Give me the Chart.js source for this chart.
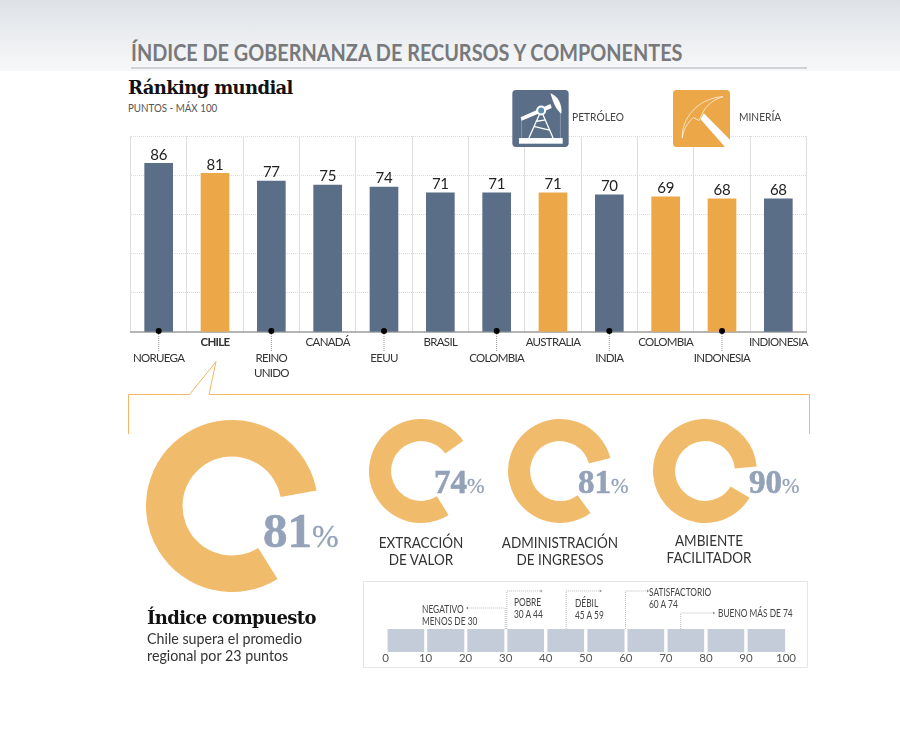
<!DOCTYPE html>
<html lang="es">
<head>
<meta charset="utf-8">
<title>Índice de gobernanza de recursos y componentes</title>
<script src="https://cdn.jsdelivr.net/npm/chart.js@4"></script>
<style>
html, body { margin: 0; padding: 0; background: #fff; }
#page { position: relative; width: 900px; height: 742px; overflow: hidden; font-family: Lato, sans-serif; color: #333; }
#page > * { position: absolute; }
#top-band { left: 0; top: 0; width: 900px; height: 71px; background: linear-gradient(#dee2e7, #f7f8f9); }
#title { left: 131px; top: 39px; font-size: 22px; font-weight: 700; color: #77797c; white-space: nowrap; line-height: 28px; transform: scaleX(0.902); transform-origin: left; }
#title-rule { left: 131px; top: 67px; width: 676px; height: 2px; background: #d0d2d5; }
.serif { font-family: "DejaVu Serif", serif; font-weight: 700; color: #111; white-space: nowrap; font-size: 18px; letter-spacing: -0.65px; line-height: 24px; }
.note { font-size: 11px; line-height: 11.5px; color: #444; white-space: nowrap; transform: scaleX(0.89); transform-origin: left; }
#page .band-note { transform: scaleX(0.76); }
.cap { font-size: 15px; line-height: 16.5px; color: #333; text-align: center; white-space: nowrap; transform: translateX(-50%) scaleX(0.9); }
.pct { font-family: "Liberation Serif", serif; font-weight: 700; color: #93a2b8; -webkit-text-stroke: 0.6px #93a2b8; white-space: nowrap; line-height: 1; }
.pct span { font-weight: 400; -webkit-text-stroke: 0.3px #93a2b8; }
#panel { left: 363px; top: 581px; width: 443px; height: 85px; border: 1px solid #e6e6e6; }
</style>
</head>
<body>
<div id="page">
  <div id="top-band"></div>
  <div id="title">ÍNDICE DE GOBERNANZA DE RECURSOS Y COMPONENTES</div>
  <div id="title-rule"></div>
  <div class="serif" style="left:128px;top:76px">Ránking mundial</div>
  <div class="note" style="left:128px;top:103px;font-size:10.5px;color:#555;transform:scaleX(0.93)">PUNTOS - MÁX 100</div>

  <canvas id="ranking-chart" width="730" height="270" style="left:100px;top:120px"></canvas>

  <svg style="left:512px;top:90px" width="57" height="57" viewBox="35 30 170 172">
    <rect x="35" y="30" width="170" height="172" rx="11" fill="#5b6e87"/>
    <rect x="55" y="175" width="132" height="17" fill="#fff"/>
    <path d="M85 175L122 92L158 175M100 140L150 152M105 125L135 120" fill="none" stroke="#fff" stroke-width="4"/>
    <path d="M63 120V175M180 95V175" stroke="#cfd6df" stroke-width="1.2"/>
    <path d="M60 112L150 72L154 84L63 123Z" fill="#fff"/>
    <path d="M150 40C172 48 186 72 183 102C170 92 160 75 150 40Z" fill="#fff"/>
    <circle cx="122" cy="92" r="15" fill="#fff"/>
    <circle cx="122" cy="92" r="9" fill="#5b8db0"/>
  </svg>
  <div class="note" style="left:572px;top:111px;font-size:11.5px">PETRÓLEO</div>
  <svg style="left:673px;top:90px" width="57" height="57" viewBox="519 30 172 172">
    <path d="M519 41a11 11 0 0 1 11-11h150a11 11 0 0 1 11 11v150l-11 11h-150a11 11 0 0 1 -11-11z" fill="#eba748"/>
    <path d="M612 100L691 180V196L680 202H676L602 118Z" fill="#fff"/>
    <path d="M547 175C544 120 590 55 670 50C640 60 620 75 608 100L598 122L580 113C562 130 550 150 547 175Z" fill="none" stroke="#fff" stroke-width="2"/>
  </svg>
  <div class="note" style="left:739px;top:111px;font-size:11.5px">MINERÍA</div>

  <svg style="left:0;top:0;pointer-events:none" width="900" height="440">
    <path d="M128.5 434V394.5H189.5L216 361.7L209 394.5H809.5V434" fill="none" stroke="#f1b765" stroke-width="1"/>
  </svg>

  <canvas id="total-ring" width="172" height="172" style="left:146px;top:420px"></canvas>
  <canvas id="extraction-ring" width="104" height="104" style="left:369px;top:419px"></canvas>
  <canvas id="income-ring" width="104" height="104" style="left:508px;top:419px"></canvas>
  <canvas id="climate-ring" width="104" height="104" style="left:653px;top:419px"></canvas>

  <div class="pct" style="left:263px;top:506px;font-size:49px">81<span style="font-size:32px">%</span></div>
  <div class="pct" style="left:434px;top:466px;font-size:33px">74<span style="font-size:21px">%</span></div>
  <div class="pct" style="left:578px;top:466px;font-size:33px">81<span style="font-size:21px">%</span></div>
  <div class="pct" style="left:749px;top:466px;font-size:33px">90<span style="font-size:21px">%</span></div>

  <div class="cap" style="left:421px;top:534px">EXTRACCIÓN<br>DE VALOR</div>
  <div class="cap" style="left:560px;top:534px">ADMINISTRACIÓN<br>DE INGRESOS</div>
  <div class="cap" style="left:709px;top:532px">AMBIENTE<br>FACILITADOR</div>

  <div class="serif" style="left:147px;top:606px">Índice compuesto</div>
  <div style="left:147px;top:630px;font-size:15px;line-height:17px;color:#333;white-space:nowrap;transform:scaleX(0.95);transform-origin:left">Chile supera el promedio<br>regional por 23 puntos</div>

  <div id="panel"></div>
  <canvas id="scale-chart" width="442" height="84" style="left:364px;top:582px"></canvas>
  <div class="note band-note" style="left:422px;top:603px">NEGATIVO<br>MENOS DE 30</div>
  <div class="note band-note" style="left:514px;top:596px">POBRE<br>30 A 44</div>
  <div class="note band-note" style="left:575px;top:597px">DÉBIL<br>45 A 59</div>
  <div class="note band-note" style="left:649px;top:586px">SATISFACTORIO<br>60 A 74</div>
  <div class="note band-note" style="left:718px;top:607px">BUENO MÁS DE 74</div>
</div>

<script>
// ranking
var countries = ["NORUEGA", "CHILE", "REINO UNIDO", "CANADÁ", "EEUU", "BRASIL", "COLOMBIA", "AUSTRALIA", "INDIA", "COLOMBIA", "INDONESIA", "INDIONESIA"];
var scores = [86, 81, 77, 75, 74, 71, 71, 71, 70, 69, 68, 68];
var sectors = ["oil", "mining", "oil", "oil", "oil", "oil", "oil", "mining", "oil", "mining", "mining", "oil"];
var dropped = [true, false, true, false, true, false, true, false, true, false, true, false];

// rings
var ring_total = [81, 19];
var ring_extraction = [74, 26];
var ring_income = [81, 19];
var ring_climate = [90, 10];

// scale at the bottom
var band_start = [0, 10, 20, 30, 40, 50, 60, 70, 80, 90];
var band_end = [9.1, 19.1, 29.1, 39, 49, 59.1, 69, 79, 89, 99.2];
var leader_from = [29.4, 29.8, 44.6, 59.4, 73.2];
var leader_to = [20.1, 38.2, 53, 64.8, 81.3];

var BLUE = "#5b6e87";
var ORANGE = "#eba748";
var RING = "#f0bc6c";
var sector_color = { oil: BLUE, mining: ORANGE };
var FONT = "Lato, sans-serif";

Chart.defaults.font.family = FONT;
Chart.defaults.animation = false;
Chart.defaults.responsive = false;
Chart.defaults.plugins.legend.display = false;
Chart.defaults.plugins.tooltip.enabled = false;

function tickLines(name, i) {
    let lines = name == "REINO UNIDO" ? ["REINO", "UNIDO"] : [name];
    return dropped[i] ? [""].concat(lines) : lines;
}

var ranking_marks = {
    id: "rankingMarks",
    // no narrow face is installed, so the tick labels are tightened instead
    beforeDraw: function (chart) {
        chart.ctx.letterSpacing = "-0.7px";
    },
    afterDraw: function (chart) {
        let ctx = chart.ctx;
        let xs = chart.scales.x;
        let ys = chart.scales.y;
        ctx.save();
        ctx.letterSpacing = "-0.3px";
        for (let i = 0; i < scores.length; i++) {
            let x = xs.getPixelForValue(i);
            ctx.fillStyle = "#222";
            ctx.font = "15px " + FONT;
            ctx.textAlign = "center";
            ctx.textBaseline = "bottom";
            ctx.fillText(scores[i], x, ys.getPixelForValue(scores[i]) - 1);
            if (dropped[i]) {
                let base = ys.getPixelForValue(0);
                ctx.strokeStyle = "#999";
                ctx.lineWidth = 1;
                ctx.setLineDash([1, 1]);
                ctx.beginPath();
                ctx.moveTo(x, base);
                ctx.lineTo(x, base + 20);
                ctx.stroke();
                ctx.setLineDash([]);
                ctx.fillStyle = "#000";
                ctx.beginPath();
                ctx.arc(x, base - 1, 3, 0, Math.PI * 2);
                ctx.fill();
            }
        }
        ctx.restore();
    }
};

new Chart(document.getElementById("ranking-chart"), {
    type: "bar",
    data: {
        labels: countries.map(tickLines),
        datasets: [{
            data: scores,
            backgroundColor: sectors.map(function (s) { return sector_color[s]; }),
            barThickness: 28
        }]
    },
    options: {
        layout: { padding: { left: 30.5, right: 23.5, top: 16, bottom: 0 } },
        scales: {
            x: {
                afterFit: function (scale) { scale.height = 58; },
                grid: { color: "#dedede", drawTicks: false, lineWidth: 1 },
                border: { color: "#b4b4b4", width: 2 },
                ticks: {
                    autoSkip: false,
                    maxRotation: 0,
                    padding: 3,
                    color: "#333",
                    font: function (c) {
                        return { size: 11.5, lineHeight: 1.33, weight: c.index == 1 ? "bold" : "normal" };
                    }
                }
            },
            y: {
                min: 0,
                max: 100,
                afterFit: function (scale) { scale.width = 0; },
                grid: { color: "#dcdcdc", drawTicks: false },
                border: { display: false, dash: [1, 1] },
                ticks: { display: false, stepSize: 20 }
            }
        }
    },
    plugins: [ranking_marks]
});

function makeRing(id, values, start_angle) {
    new Chart(document.getElementById(id), {
        type: "doughnut",
        data: {
            datasets: [{
                data: values,
                backgroundColor: [RING, "rgba(0,0,0,0)"],
                borderWidth: 0
            }]
        },
        options: { cutout: "57.5%", rotation: start_angle }
    });
}

makeRing("total-ring", ring_total, 148);
makeRing("extraction-ring", ring_extraction, 148);
makeRing("income-ring", ring_income, 144);
makeRing("climate-ring", ring_climate, 121);

var scale_leaders = {
    id: "scaleLeaders",
    afterDraw: function (chart) {
        let ctx = chart.ctx;
        let xs = chart.scales.x;
        let bar_top = chart.chartArea.top;
        let rise = [21, 38, 38, 38, 16];
        ctx.save();
        ctx.strokeStyle = "#bbb";
        ctx.fillStyle = "#888";
        ctx.lineWidth = 1;
        ctx.setLineDash([1, 1]);
        for (let i = 0; i < leader_from.length; i++) {
            let x0 = xs.getPixelForValue(leader_from[i]);
            let x1 = xs.getPixelForValue(leader_to[i]);
            let y = bar_top - rise[i];
            ctx.beginPath();
            ctx.moveTo(x0, bar_top);
            ctx.lineTo(x0, y);
            ctx.lineTo(x1, y);
            ctx.stroke();
            let dir = x1 > x0 ? 1 : -1;
            ctx.beginPath();
            ctx.moveTo(x1 + dir * 2, y);
            ctx.lineTo(x1, y - 1.5);
            ctx.lineTo(x1, y + 1.5);
            ctx.fill();
        }
        ctx.restore();
    }
};

new Chart(document.getElementById("scale-chart"), {
    type: "bar",
    data: {
        labels: ["puntos"],
        datasets: band_start.map(function (from, i) {
            return { data: [[from, band_end[i]]], backgroundColor: "#c5ccd9", barThickness: 23 };
        })
    },
    options: {
        indexAxis: "y",
        layout: { padding: { left: 23.5, right: 18, top: 47, bottom: 0 } },
        datasets: { bar: { grouped: false } },
        scales: {
            x: {
                min: 0,
                max: 100,
                afterFit: function (scale) { scale.height = 14; },
                grid: { display: false, drawTicks: false },
                border: { display: false },
                ticks: { stepSize: 10, padding: 0, labelOffset: -2, color: "#555", maxRotation: 0, font: { size: 11.5, lineHeight: 1.1 } }
            },
            y: { display: false }
        }
    },
    plugins: [scale_leaders]
});
</script>
</body>
</html>
